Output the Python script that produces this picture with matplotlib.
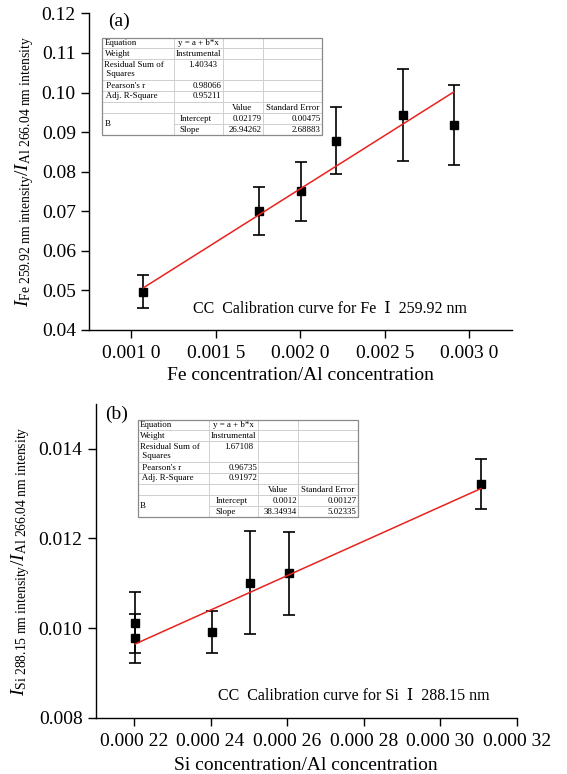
import numpy as np
import matplotlib.pyplot as plt
from matplotlib.patches import Rectangle
from matplotlib.ticker import FixedLocator

plt.rcParams['font.family'] = ['Liberation Serif', 'DejaVu Serif', 'Noto Sans CJK SC']
plt.rcParams['mathtext.fontset'] = 'custom'
plt.rcParams['mathtext.rm'] = 'Liberation Serif'
plt.rcParams['mathtext.it'] = 'Liberation Serif:italic'

# (a) Fe I 259.92 nm
fe_ratio = [0.001072, 0.001754, 0.002002, 0.00221, 0.002608, 0.002908]
fe_int = [0.0497, 0.0700, 0.0750, 0.0878, 0.0944, 0.0918]
fe_err = [0.0041, 0.0061, 0.0075, 0.0085, 0.0116, 0.0102]
fe_intercept, fe_intercept_se = 0.02179, 0.00475
fe_slope, fe_slope_se = 26.94262, 2.68883
fe_stats = ['y = a + b*x', 'Instrumental', '1.40343', '0.98066', '0.95211']
fe_xticks = [0.0010, 0.0015, 0.0020, 0.0025, 0.0030]
fe_xlabels = ['0.001 0', '0.001 5', '0.002 0', '0.002 5', '0.003 0']
fe_yticks = [0.04, 0.05, 0.06, 0.07, 0.08, 0.09, 0.10, 0.11, 0.12]
fe_ylabels = ['0.04', '0.05', '0.06', '0.07', '0.08', '0.09', '0.10', '0.11', '0.12']

# (b) Si I 288.15 nm
si_ratio = [0.0002203, 0.0002203, 0.0002404, 0.0002504, 0.0002604, 0.0003106]
si_int = [0.010124, 0.009775, 0.009916, 0.011015, 0.011223, 0.013205]
si_err = [0.00068, 0.00055, 0.00047, 0.00114, 0.00092, 0.00056]
si_intercept, si_intercept_se = 0.0012, 0.00127
si_slope, si_slope_se = 38.34934, 5.02335
si_stats = ['y = a + b*x', 'Instrumental', '1.67108', '0.96735', '0.91972']
si_xticks = [0.00022, 0.00024, 0.00026, 0.00028, 0.00030, 0.00032]
si_xlabels = ['0.000 22', '0.000 24', '0.000 26', '0.000 28', '0.000 30', '0.000 32']
si_yticks = [0.008, 0.010, 0.012, 0.014]
si_ylabels = ['0.008', '0.010', '0.012', '0.014']

W, H = 567, 774
fig = plt.figure(figsize=(W / 100, H / 100), dpi=100)


def box(x0, y0, x1, y1):
    # pixel box measured from the top-left corner -> figure rect
    return [x0 / W, 1 - y1 / H, (x1 - x0) / W, (y1 - y0) / H]


col_w = [71.5, 49, 40, 59.5]
row_h = [10.3, 11, 20.7, 11, 11, 11.3, 11, 11]


def draw_table(x0, y0, stats, a, a_se, b, b_se):
    tw, th = sum(col_w), sum(row_h)
    t = fig.add_axes(box(x0, y0, x0 + tw, y0 + th))
    t.set_xlim(0, tw)
    t.set_ylim(th, 0)
    t.axis('off')
    t.add_patch(Rectangle((0, 0), tw, th, facecolor='white', edgecolor='#8a8a8a',
                          lw=0.9, zorder=5, fill=False, clip_on=False))
    t.add_patch(Rectangle((0, 0), tw, th, facecolor='white', lw=0, zorder=0, clip_on=False))
    xs = np.cumsum([0] + col_w)
    ys = np.cumsum([0] + row_h)
    for x in xs[1:-1]:
        t.plot([x, x], [0, th], color='#cfcfcf', lw=0.7)
    for i, y in enumerate(ys[1:-1]):
        start = xs[1] if i == 6 else 0
        t.plot([start, tw], [y, y], color='#cfcfcf', lw=0.7)

    fs = 6.4
    mid = lambda r: (ys[r] + ys[r + 1]) / 2

    def cell(r, c, s, ha='left', y=None, pad=2.5):
        if ha == 'left':
            x = xs[c] + pad
        elif ha == 'right':
            x = xs[c + 1] - pad
        else:
            x = (xs[c] + xs[c + 1]) / 2
        t.text(x, mid(r) if y is None else y, s, ha=ha, va='center', fontsize=fs)

    cell(0, 0, 'Equation')
    cell(1, 0, 'Weight')
    cell(2, 0, 'Residual Sum of\n Squares', y=mid(2))
    cell(3, 0, " Pearson's r")
    cell(4, 0, ' Adj. R-Square')
    t.text(xs[0] + 2.5, ys[7], 'B', ha='left', va='center', fontsize=fs)

    cell(0, 1, stats[0], ha='center')
    cell(1, 1, stats[1], ha='center')
    cell(2, 1, stats[2], ha='right', y=ys[2] + 5.5, pad=5)
    cell(3, 1, stats[3], ha='right', pad=1)
    cell(4, 1, stats[4], ha='right', pad=1)
    cell(6, 1, 'Intercept', pad=6)
    cell(7, 1, 'Slope', pad=6)

    cell(5, 2, 'Value', ha='center')
    cell(5, 3, 'Standard Error', ha='center')
    cell(6, 2, str(a), ha='right', pad=1)
    cell(7, 2, str(b), ha='right', pad=1)
    cell(6, 3, str(a_se), ha='right', pad=1)
    cell(7, 3, str(b_se), ha='right', pad=1)


def panel(rect, x, y, err, a, b, xlim, ylim, xticks, xlabels, yticks, ylabels):
    ax = fig.add_axes(rect)
    ax.errorbar(x, y, yerr=err, fmt='s', color='black', ms=6.4, capsize=4,
                elinewidth=1.2, capthick=1.2, zorder=3)
    xf = np.array([min(x), max(x)])
    ax.plot(xf, a + b * xf, color='#e8221c', lw=1.1, zorder=4)
    ax.set_xlim(*xlim)
    ax.set_ylim(*ylim)
    ax.xaxis.set_major_locator(FixedLocator(xticks))
    ax.set_xticklabels(xlabels)
    ax.yaxis.set_major_locator(FixedLocator(yticks))
    ax.set_yticklabels(ylabels)
    for s in ('top', 'right'):
        ax.spines[s].set_visible(False)
    for s in ('left', 'bottom'):
        ax.spines[s].set_linewidth(1.0)
    ax.tick_params(direction='out', length=5.5, width=1.0, labelsize=14)
    ax.tick_params(axis='x', pad=5)
    ax.tick_params(axis='y', pad=4)
    return ax


ax1 = panel(box(89, 13.4, 511.5, 330), fe_ratio, fe_int, fe_err, fe_intercept, fe_slope,
            (0.00075, 0.00325), (0.04, 0.12), fe_xticks, fe_xlabels, fe_yticks, fe_ylabels)
ax1.text(0.246, 0.066, 'CC  Calibration curve for Fe  Ⅰ  259.92 nm', transform=ax1.transAxes,
         fontsize=11.5, va='center')
fig.text(108 / W, 1 - 21 / H, '(a)', fontsize=14, va='center')
fig.text(300 / W, 1 - 376 / H, 'Fe concentration/Al concentration', fontsize=14,
         ha='center', va='center')
fig.text(25 / W, 1 - 171.5 / H,
         r'$I_{\mathrm{Fe\ 259.92\ nm\ intensity}}/I_{\mathrm{Al\ 266.04\ nm\ intensity}}$',
         fontsize=14, rotation=90, ha='center', va='center')
draw_table(102, 38, fe_stats, fe_intercept, fe_intercept_se, fe_slope, fe_slope_se)

ax2 = panel(box(95.7, 403.7, 517, 718), si_ratio, si_int, si_err, si_intercept, si_slope,
            (0.00021, 0.00032), (0.008, 0.015), si_xticks, si_xlabels, si_yticks, si_ylabels)
ax2.text(0.291, 0.07, 'CC  Calibration curve for Si  Ⅰ  288.15 nm', transform=ax2.transAxes,
         fontsize=11.5, va='center')
fig.text(105 / W, 1 - 414 / H, '(b)', fontsize=14, va='center')
fig.text(306 / W, 1 - 765 / H, 'Si concentration/Al concentration', fontsize=14,
         ha='center', va='center')
fig.text(21 / W, 1 - 561.5 / H,
         r'$I_{\mathrm{Si\ 288.15\ nm\ intensity}}/I_{\mathrm{Al\ 266.04\ nm\ intensity}}$',
         fontsize=14, rotation=90, ha='center', va='center')
draw_table(137.7, 420, si_stats, si_intercept, si_intercept_se, si_slope, si_slope_se)

fig.savefig('out.png', dpi=100)
